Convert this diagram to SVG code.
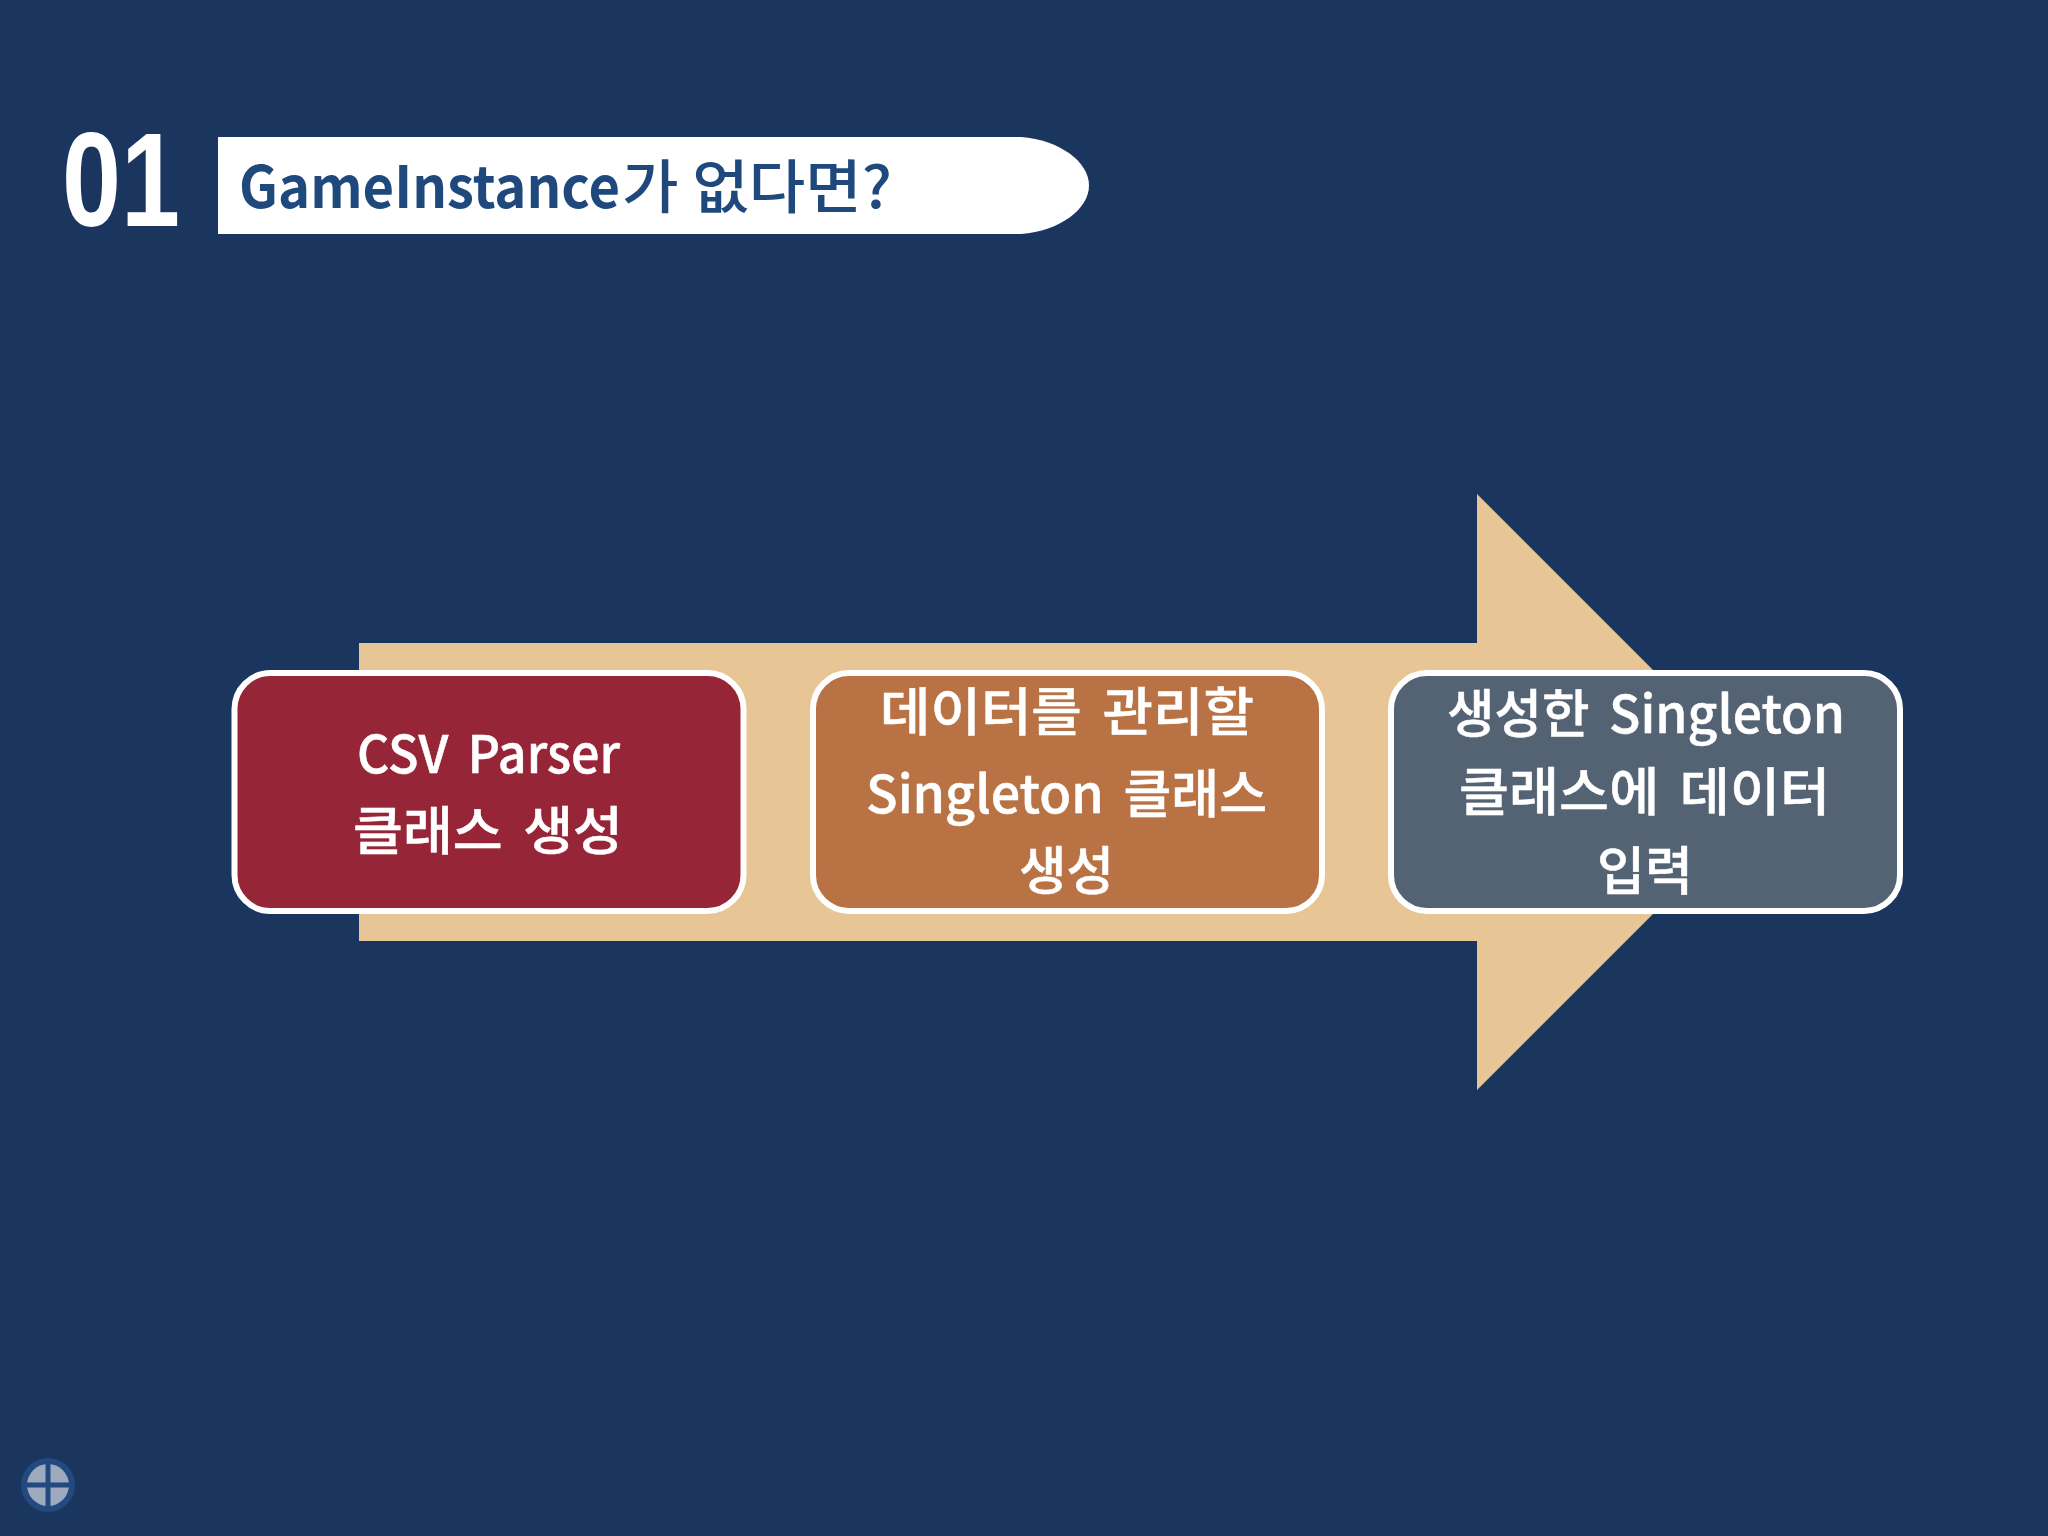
<svg xmlns="http://www.w3.org/2000/svg" width="2048" height="1536" viewBox="0 0 2048 1536">
<style>
.t{font-family:"Noto Sans CJK KR","Noto Sans",sans-serif;font-weight:500;font-size:52px;fill:#fff;word-spacing:8px;stroke:#fff;stroke-width:.5px}
.box{stroke:#fff;stroke-width:6}
</style>
<rect width="2048" height="1536" fill="#1a365f"/>
<text x="62" y="226" font-family="'Liberation Sans',sans-serif" font-weight="700" font-size="134" fill="#fff" textLength="118" lengthAdjust="spacingAndGlyphs">01</text>
<g id="title">
<path d="M218 137H1021C1060 140 1089 162 1089 185.500C1089 209 1060 231 1021 234H218Z" fill="#fff"/>
<text y="208" font-family="'Noto Sans CJK KR','Noto Sans',sans-serif" font-weight="700" font-size="58" fill="#1f497d"><tspan x="239" textLength="381" lengthAdjust="spacingAndGlyphs">GameInstance</tspan><tspan x="622" textLength="270" lengthAdjust="spacingAndGlyphs" font-weight="500">가 없다면?</tspan></text>
</g>
<g id="arrow"><path d="M359 643H1477V494L1775 792L1477 1090V941H359Z" fill="#e8c594"/></g>
<g id="node1">
<rect class="box" x="234.500" y="673" width="509" height="238" rx="36" fill="#962538"/>
<text class="t" x="357" y="773" textLength="263" lengthAdjust="spacingAndGlyphs">CSV Parser</text>
<text class="t" x="353" y="850" textLength="270" lengthAdjust="spacingAndGlyphs">클래스 생성</text>
</g>
<g id="node2">
<rect class="box" x="813" y="673" width="509" height="238" rx="36" fill="#b97243"/>
<text class="t" x="880" y="731" textLength="374" lengthAdjust="spacingAndGlyphs">데이터를 관리할</text>
<text class="t" x="866" y="813" textLength="401" lengthAdjust="spacingAndGlyphs">Singleton 클래스</text>
<text class="t" x="1019" y="890" textLength="95" lengthAdjust="spacingAndGlyphs">생성</text>
</g>
<g id="node3">
<rect class="box" x="1391" y="673" width="509" height="238" rx="36" fill="#546373"/>
<text class="t" x="1447" y="733" textLength="398" lengthAdjust="spacingAndGlyphs">생성한 Singleton</text>
<text class="t" x="1459" y="811" textLength="371" lengthAdjust="spacingAndGlyphs">클래스에 데이터</text>
<text class="t" x="1597" y="890" textLength="96" lengthAdjust="spacingAndGlyphs">입력</text>
</g>
<g id="icon">
<circle cx="48" cy="1485" r="27" fill="#234a80"/>
<circle cx="48" cy="1485" r="21" fill="#9daabd"/>
<path d="M48 1463V1507M26 1485H70" stroke="#234a80" stroke-width="5"/>
</g>
</svg>
